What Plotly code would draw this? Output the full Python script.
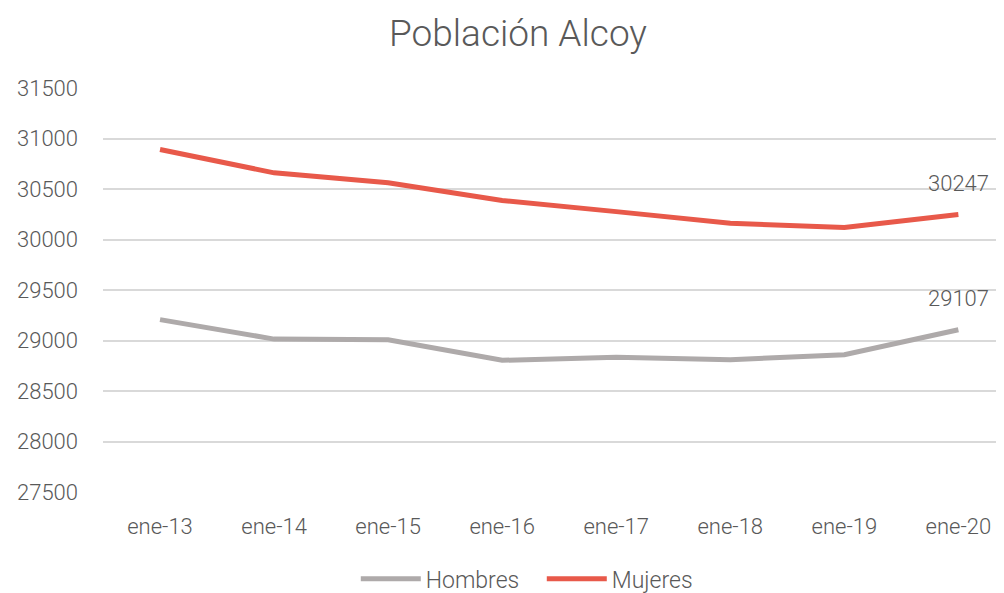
import plotly.graph_objects as go

categories = ["ene-13", "ene-14", "ene-15", "ene-16", "ene-17", "ene-18", "ene-19", "ene-20"]
hombres = [29207, 29014, 29007, 28804, 28833, 28810, 28860, 29107]
mujeres = [30891, 30660, 30561, 30386, 30276, 30160, 30120, 30247]
y_ticks = [27500, 28000, 28500, 29000, 29500, 30000, 30500, 31000, 31500]
y_tick_text = [str(v) for v in y_ticks]

TXT = "#595959"
FONT = "Roboto"

fig = go.Figure()
fig.add_trace(go.Scatter(x=categories, y=hombres, mode="lines", name="Hombres",
                         line=dict(color="#AEAAAA", width=5)))
fig.add_trace(go.Scatter(x=categories, y=mujeres, mode="lines", name="Mujeres",
                         line=dict(color="#E8594A", width=5)))

for series in (hombres, mujeres):
    fig.add_annotation(x=categories[-1], y=series[-1], text=str(series[-1]),
                       showarrow=False, yshift=31,
                       font=dict(family=FONT, size=22, color=TXT, weight=300))

fig.update_layout(
    width=996, height=585,
    margin=dict(l=95, r=0, t=80, b=101, autoexpand=False),
    paper_bgcolor="white", plot_bgcolor="white",
    title=dict(text="Población Alcoy", x=0.512, xanchor="center", y=0.958, yanchor="middle",
               font=dict(family=FONT, size=37, color=TXT, weight=300)),
    font=dict(family=FONT, size=22, color=TXT, weight=300),
    showlegend=True,
    legend=dict(orientation="h", x=0.487, xanchor="center", y=-0.215, yanchor="middle",
                font=dict(family=FONT, size=23, color=TXT, weight=300), itemwidth=60,
                entrywidth=111, entrywidthmode="pixels", tracegroupgap=0),
)
fig.update_xaxes(type="category", range=[-0.5, 7.4], showgrid=False, zeroline=False,
                 showline=False, ticks="",
                 tickfont=dict(family=FONT, size=22, color=TXT, weight=300),
                 ticklabelstandoff=19)
fig.update_yaxes(range=[27500, 31500], tickvals=y_ticks, ticktext=y_tick_text,
                 showgrid=True, gridcolor="#D9D9D9", gridwidth=1.5, zeroline=False,
                 showline=False,
                 tickfont=dict(family=FONT, size=22, color=TXT, weight=300),
                 ticklabelstandoff=24)

fig.write_html("out.html")
